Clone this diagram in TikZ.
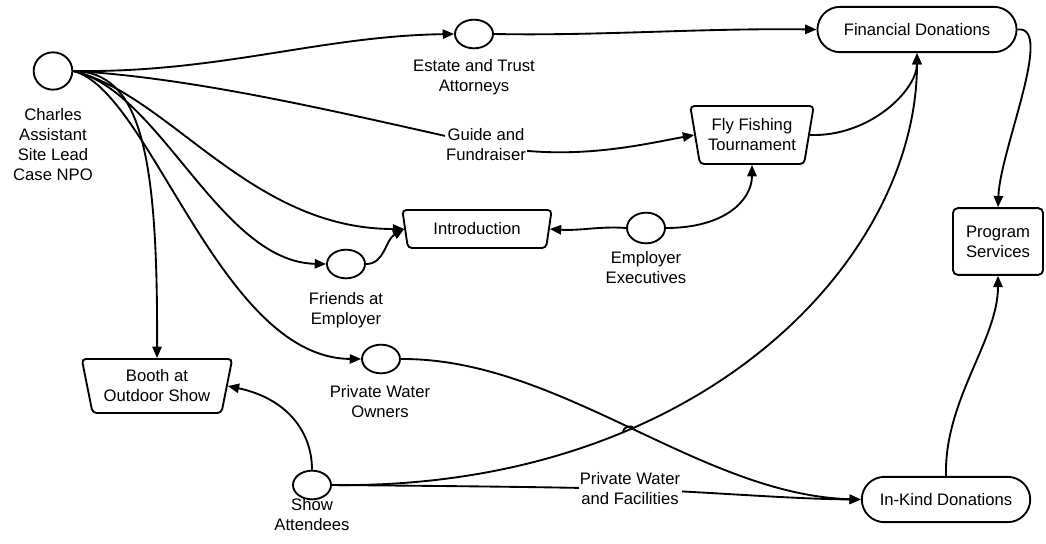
\documentclass[tikz,border=0pt]{standalone}
\usepackage{fontspec}
\setmainfont{Liberation Sans}
\usetikzlibrary{shapes.geometric,shapes.misc,arrows.meta}
\pgfdeclarelayer{wires}
\pgfsetlayers{wires,main}
\begin{document}
\begin{tikzpicture}[x=0.75pt,y=-0.75pt,
  every node/.style={font=\fontsize{12.5}{15}\selectfont, align=center},
  conn/.style={line width=1.4pt, -{Triangle[length=8.5pt,width=7pt]}},
  plain/.style={line width=1.4pt},
  actor/.style={ellipse, draw, line width=1.4pt, fill=white, inner sep=0pt,
    minimum width=28.5pt, minimum height=21.5pt},
  caption/.style={inner sep=0pt},
  pool/.style={rounded rectangle, draw, line width=1.4pt, fill=white, minimum height=34pt},
  channel/.style={trapezium, trapezium stretches=true, shape border rotate=180,
    trapezium angle=77, draw, line width=1.4pt, fill=white, rounded corners=3pt, inner sep=2pt},
  program/.style={rectangle, draw, line width=1.4pt, fill=white, rounded corners=3.5pt},
  edgelabel/.style={fill=white, inner sep=1pt}]

\useasboundingbox (0,0) rectangle (1046,543);

% actors and their captions
\node[actor, minimum width=29pt, minimum height=28pt] (charles) at (53,71) {};
\node[caption] (charlesT) at (53,145) {Charles\\Assistant\\Site Lead\\Case NPO};
\node[actor] (estate) at (474,34) {};
\node[caption] (estateT) at (474,77) {Estate and Trust\\Attorneys};
\node[actor, minimum height=23pt] (exec) at (646,228) {};
\node[caption] (execT) at (646,268) {Employer\\Executives};
\node[actor] (friends) at (346,264) {};
\node[caption] (friendsT) at (346,310) {Friends at\\Employer};
\node[actor] (owners) at (381,359) {};
\node[caption] (ownersT) at (380,402) {Private Water\\Owners};
\node[actor] (show) at (312,485) {};
\node[caption] (showT) at (312,515) {Show\\Attendees};

% channels
\node[channel, minimum width=93pt, minimum height=43.5pt] (fly) at (752,135) {Fly Fishing\\Tournament};
\node[channel, minimum width=112.5pt, minimum height=28.5pt, trapezium angle=78] (intro) at (477,229) {Introduction};
\node[channel, minimum width=113pt, minimum height=40.5pt, trapezium angle=76] (booth) at (157,386) {Booth at\\Outdoor Show};

% resource pools and program
\node[pool, minimum width=156pt] (fin) at (917,29.5) {Financial Donations};
\node[pool, minimum width=133pt] (inkind) at (946,499.5) {In-Kind Donations};
\node[program, minimum width=67.5pt, minimum height=50pt] (prog) at (998,241.5) {Program\\Services};

% labels sitting on connectors
\node[edgelabel] (guide) at (486,145) {Guide and\\Fundraiser};
\node[edgelabel] (facil) at (630,489) {Private Water\\and Facilities};

\begin{pgfonlayer}{wires}
\draw[conn] (charles.east) .. controls (220,73) and (320,36) .. (estate.west);
\draw[conn] (estate.east) .. controls (600,36) and (700,28) .. (fin.west);
\draw[plain] (charles.east) .. controls (200,78) and (350,115) .. (guide.center);
\draw[conn] (guide.center) .. controls (570,162) and (640,145) .. (fly.west);
\draw[conn] (fly.east) .. controls (870,137) and (917,90) .. (fin.south);
\draw[conn] (fin.east) .. controls (1055,25) and (1000,150) .. (prog.north);
\draw[conn] (charles.east) .. controls (170,95) and (250,229) .. (intro.west);
\draw[conn] (charles.east) .. controls (160,90) and (220,262) .. (friends.west);
\draw[conn] (charles.east) .. controls (150,90) and (220,358) .. (owners.west);
\draw[conn] (charles.east) .. controls (140,72) and (158,150) .. (booth.north);
\draw[conn] (friends.east) .. controls (385,264) and (385,240) .. (intro.west);
\draw[conn] (exec.west) .. controls (600,226) and (580,231) .. (intro.east);
\draw[conn] (exec.east) .. controls (725,228) and (752,200) .. (fly.south);
\draw[conn] (owners.east) .. controls (560,358) and (700,495) .. (inkind.west);
\draw[conn] (show.north) .. controls (312,430) and (285,398) .. (booth.east);
\draw[conn] (show.east) .. controls (700,490) and (917,260) .. (fin.south);
\draw[plain] (show.east) .. controls (450,486) and (550,487) .. (facil.center);
\draw[conn] (facil.center) .. controls (710,492) and (790,499) .. (inkind.west);
\draw[conn] (inkind.north) .. controls (944,400) and (998,340) .. (prog.south);
% small hop where two connectors cross
\draw[plain] (623,433) .. controls (623,426) and (632,424) .. (634,429);
\end{pgfonlayer}
\end{tikzpicture}
\end{document}
